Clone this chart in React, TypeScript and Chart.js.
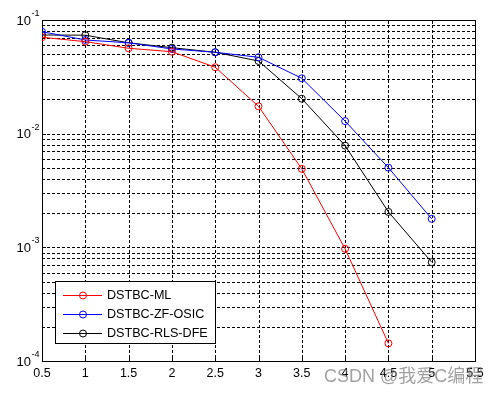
import React, { useEffect, useRef } from "react";
import { Chart, registerables } from "chart.js";

Chart.register(...registerables);

const xValues = [0.5, 1, 1.5, 2, 2.5, 3, 3.5, 4, 4.5, 5];
const mlValues = [0.0705, 0.0645, 0.0564, 0.0526, 0.0384, 0.0174, 0.0049, 0.00097, 0.000143];
const zfValues = [0.0789, 0.0667, 0.063, 0.0556, 0.052, 0.047, 0.0307, 0.0129, 0.00502, 0.00178];
const rlsValues = [0.0738, 0.0735, 0.063, 0.0571, 0.052, 0.0436, 0.0203, 0.00785, 0.00205, 0.00074];
const seriesNames = ["DSTBC-ML", "DSTBC-ZF-OSIC", "DSTBC-RLS-DFE"];
const seriesColors = ["#ff0000", "#0000ff", "#000000"];
const xTicks = [0.5, 1, 1.5, 2, 2.5, 3, 3.5, 4, 4.5, 5, 5.5];
const xTickLabels = ["0.5", "1", "1.5", "2", "2.5", "3", "3.5", "4", "4.5", "5", "5.5"];
const yDecades = [-4, -3, -2, -1];
const watermark = "CSDN @我爱C编程";

const FONT = "'Liberation Sans', Arial, sans-serif";

const matlabPlugin = {
  id: "matlabAxes",
  beforeDraw(chart: any) {
    const ctx = chart.ctx;
    ctx.save();
    ctx.fillStyle = "#ffffff";
    ctx.fillRect(0, 0, chart.width, chart.height);
    ctx.restore();
  },
  beforeDatasetsDraw(chart: any) {
    const ctx = chart.ctx;
    const xs = chart.scales.x;
    const ys = chart.scales.y;
    const { left, right, top, bottom } = chart.chartArea;
    ctx.save();
    ctx.strokeStyle = "#000000";
    ctx.lineWidth = 1;
    ctx.setLineDash([3, 2]);
    // vertical grid
    xTicks.forEach((v) => {
      const px = Math.round(xs.getPixelForValue(v)) + 0.5;
      if (px <= left + 1 || px >= right - 1) return;
      ctx.beginPath();
      ctx.moveTo(px, top);
      ctx.lineTo(px, bottom);
      ctx.stroke();
    });
    // horizontal log grid
    yDecades.forEach((e) => {
      for (let m = 1; m <= 9; m++) {
        const v = m * Math.pow(10, e);
        const py = Math.round(ys.getPixelForValue(v)) + 0.5;
        if (py <= top + 1 || py >= bottom - 1) continue;
        ctx.beginPath();
        ctx.moveTo(left, py);
        ctx.lineTo(right, py);
        ctx.stroke();
      }
    });
    ctx.setLineDash([]);
    // ticks (inward)
    xTicks.forEach((v) => {
      const px = Math.round(xs.getPixelForValue(v)) + 0.5;
      ctx.beginPath();
      ctx.moveTo(px, bottom);
      ctx.lineTo(px, bottom - 4);
      ctx.moveTo(px, top);
      ctx.lineTo(px, top + 4);
      ctx.stroke();
    });
    yDecades.forEach((e) => {
      for (let m = 1; m <= 9; m++) {
        const v = m * Math.pow(10, e);
        const py = Math.round(ys.getPixelForValue(v)) + 0.5;
        const len = m === 1 ? 4 : 2;
        ctx.beginPath();
        ctx.moveTo(left, py);
        ctx.lineTo(left + len, py);
        ctx.moveTo(right, py);
        ctx.lineTo(right - len, py);
        ctx.stroke();
      }
    });
    // frame
    ctx.strokeRect(Math.round(left) + 0.5, Math.round(top) + 0.5, Math.round(right - left), Math.round(bottom - top));
    ctx.restore();
  },
  afterDraw(chart: any) {
    const ctx = chart.ctx;
    const xs = chart.scales.x;
    const ys = chart.scales.y;
    const { bottom } = chart.chartArea;
    ctx.save();
    ctx.fillStyle = "#000000";
    // x tick labels
    ctx.font = `12.5px ${FONT}`;
    ctx.textAlign = "center";
    ctx.textBaseline = "alphabetic";
    xTicks.forEach((v, i) => {
      ctx.fillText(xTickLabels[i], xs.getPixelForValue(v), bottom + 16);
    });
    // y tick labels 10^e
    yDecades.forEach((e) => {
      const py = ys.getPixelForValue(Math.pow(10, e));
      ctx.font = `13px ${FONT}`;
      ctx.textAlign = "left";
      ctx.fillText("10", 16.5, py + 4.5);
      const w = ctx.measureText("10").width;
      ctx.font = `9px ${FONT}`;
      ctx.fillText(String(e), 16.5 + w + 0.5, py - 4);
    });
    // legend
    const lx = 55.5, ly = 281.5, lw = 160, lh = 62;
    ctx.fillStyle = "#ffffff";
    ctx.fillRect(lx, ly, lw, lh);
    ctx.strokeStyle = "#000000";
    ctx.lineWidth = 1;
    ctx.strokeRect(lx, ly, lw, lh);
    const rows = [295, 314, 333];
    chart.data.datasets.forEach((ds: any, i: number) => {
      const ry = rows[i] + 0.5;
      ctx.strokeStyle = ds.borderColor;
      ctx.beginPath();
      ctx.moveTo(63, ry);
      ctx.lineTo(102, ry);
      ctx.stroke();
      ctx.beginPath();
      ctx.arc(83, ry, 3.5, 0, Math.PI * 2);
      ctx.stroke();
      ctx.fillStyle = "#000000";
      ctx.font = `12.6px ${FONT}`;
      ctx.textAlign = "left";
      ctx.textBaseline = "middle";
      ctx.fillText(ds.label, 107, ry);
    });
    // watermark
    ctx.textBaseline = "alphabetic";
    ctx.font = `18px ${FONT}, 'Noto Sans CJK SC'`;
    ctx.fillStyle = "rgba(130,130,130,0.75)";
    ctx.fillText(watermark, 324, 382);
    ctx.restore();
  },
};

export default function App() {
  const ref = useRef<HTMLCanvasElement | null>(null);
  useEffect(() => {
    if (!ref.current) return;
    const mk = (vals: number[]) => vals.map((y, i) => ({ x: xValues[i], y }));
    const all = [mlValues, zfValues, rlsValues];
    const chart = new Chart(ref.current, {
      type: "line",
      data: {
        datasets: all.map((vals, i) => ({
          label: seriesNames[i],
          data: mk(vals),
          borderColor: seriesColors[i],
          backgroundColor: "rgba(0,0,0,0)",
          pointBorderColor: seriesColors[i],
          pointBackgroundColor: "rgba(0,0,0,0)",
          borderWidth: 1,
          pointRadius: 3.5,
          pointBorderWidth: 1,
          tension: 0,
          fill: false,
        })),
      },
      options: {
        animation: false,
        responsive: false,
        maintainAspectRatio: false,
        devicePixelRatio: 1,
        layout: { padding: { left: 42, top: 20, right: 23, bottom: 33 } },
        plugins: { legend: { display: false }, tooltip: { enabled: false } },
        scales: {
          x: {
            type: "linear",
            min: 0.5,
            max: 5.5,
            ticks: { display: false },
            grid: { display: false, drawTicks: false },
            border: { display: false },
          },
          y: {
            type: "logarithmic",
            min: 1e-4,
            max: 1e-1,
            ticks: { display: false },
            grid: { display: false, drawTicks: false },
            border: { display: false },
          },
        },
      },
      plugins: [matlabPlugin],
    });
    return () => chart.destroy();
  }, []);
  return (
    <div style={{ position: "fixed", left: 0, top: 0, width: 498, height: 394, background: "#fff" }}>
      <canvas ref={ref} width={498} height={394} style={{ width: 498, height: 394, display: "block" }} />
    </div>
  );
}
